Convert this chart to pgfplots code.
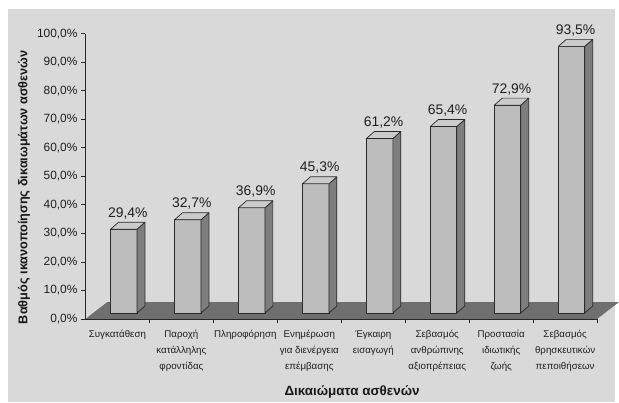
\documentclass[border=0pt]{standalone}
\usepackage{pgfplots}
\pgfplotsset{compat=1.18}
\usepackage{pgfplotstable}
\usepackage{fontspec}
\setmainfont{Liberation Sans}
\definecolor{bgc}{HTML}{D9D9D9}
\definecolor{floorc}{HTML}{6F6F6F}
\definecolor{barfront}{HTML}{BDBDBD}
\definecolor{bartop}{HTML}{CBCBCB}
\definecolor{barside}{HTML}{7E7E7E}
\definecolor{barline}{HTML}{2A2A2A}

\pgfplotstableread{
idx v
0 29.4
1 32.7
2 36.9
3 45.3
4 61.2
5 65.4
6 72.9
7 93.5
}\datatable

\begin{document}
\begin{tikzpicture}[x=1pt,y=1pt]
\fill[white] (0,0) rectangle (619,405);
\fill[bgc] (8,0) rectangle (619,396);
\begin{axis}[
  at={(86pt,84pt)}, anchor=south west,
  scale only axis, width=515pt, height=287pt,
  xmin=0, xmax=8, ymin=0, ymax=100,
  clip=false, axis on top,
  axis x line*=bottom, axis y line*=left,
  axis line style={black!85, line width=0.8pt},
  tick align=outside, major tick length=4.5pt,
  tick style={black!85, line width=0.8pt},
  /pgf/number format/assume math mode=true,
  ytick={0,10,...,100},
  yticklabel={\pgfmathprintnumber[fixed,fixed zerofill,precision=1,use comma]{\tick}\%},
  yticklabel style={font=\fontsize{12}{14}\selectfont, text=black!88},
  xtick={1,...,8}, xticklabels={},
  extra x ticks={0.5,1.5,...,7.5},
  extra x tick labels={{Συγκατάθεση},{Παροχή\\κατάλληλης\\φροντίδας},{Πληροφόρηση},{Ενημέρωση\\για διενέργεια\\επέμβασης},{Έγκαιρη\\εισαγωγή},{Σεβασμός\\ανθρώπινης\\αξιοπρέπειας},{Προστασία\\ιδιωτικής\\ζωής},{Σεβασμός\\θρησκευτικών\\πεποιθήσεων}},
  extra x tick style={major tick length=0pt, xticklabel style={align=center, font=\fontsize{9.8}{16}\selectfont, text=black!88, anchor=north, yshift=-8pt}},
  xlabel={Δικαιώματα ασθενών},
  xlabel style={font=\bfseries\fontsize{13.5}{15}\selectfont, text=black!90, at={(axis description cs:0.521,-0.268)}, anchor=base},
  ylabel={Βαθμός ικανοποίησης δικαιωμάτων ασθενών},
  ylabel style={font=\bfseries\fontsize{12.8}{14}\selectfont, text=black!90, at={(axis description cs:-0.12,0.462)}, anchor=center, rotate=0},
]
% floor
\addplot[fill=floorc, draw=none] coordinates {(0,0) (8,0) (8.342,5.92) (0.342,5.92)} -- cycle;
% 3D bars
\pgfplotsinvokeforeach{0,...,7}{
  \pgfplotstablegetelem{#1}{v}\of\datatable
  \pgfmathsetmacro\xl{#1+0.3935}
  \pgfmathsetmacro\xr{\xl+0.413}
  \pgfmathsetmacro\xrr{\xr+0.124}
  \pgfmathsetmacro\xll{\xl+0.124}
  \pgfmathsetmacro\yb{2.09}
  \pgfmathsetmacro\ybb{2.09+2.44}
  \pgfmathsetmacro\yt{\pgfplotsretval+2.09}
  \pgfmathsetmacro\ytt{\yt+2.44}
  \edef\temp{%
    \noexpand\addplot[fill=barfront, draw=barline, line width=0.7pt, line join=round] coordinates {(\xl,\yb) (\xr,\yb) (\xr,\yt) (\xl,\yt)} -- cycle;
    \noexpand\addplot[fill=barside, draw=barline, line width=0.7pt, line join=round] coordinates {(\xr,\yb) (\xrr,\ybb) (\xrr,\ytt) (\xr,\yt)} -- cycle;
    \noexpand\addplot[fill=bartop, draw=barline, line width=0.7pt, line join=round] coordinates {(\xl,\yt) (\xr,\yt) (\xrr,\ytt) (\xll,\ytt)} -- cycle;
  }%
  \temp
}
% value labels
\addplot[draw=none, mark=none, point meta=\thisrow{v},
  nodes near coords={\pgfmathprintnumber[fixed,fixed zerofill,precision=1,use comma]{\pgfplotspointmeta}\%},
  nodes near coords style={font=\fontsize{14}{16}\selectfont, text=black!88, anchor=base, yshift=5pt}]
  table[x expr=\coordindex+0.662, y expr=\thisrow{v}+4.53] {\datatable};
\end{axis}
\end{tikzpicture}
\end{document}
